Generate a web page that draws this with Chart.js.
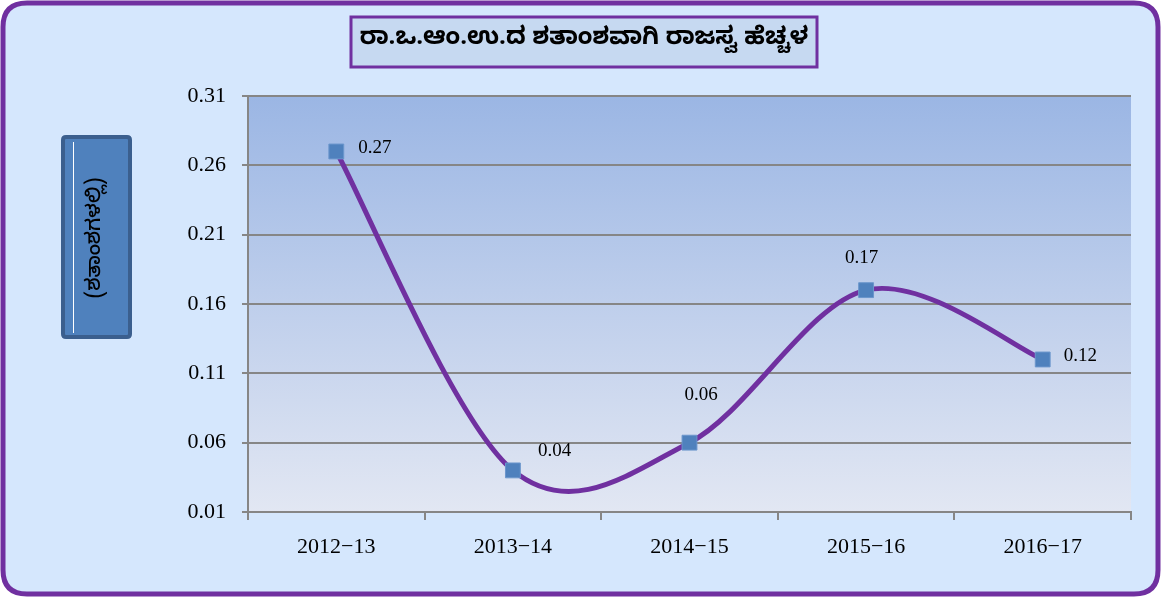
<!DOCTYPE html>
<html>
<head>
<meta charset="utf-8">
<script src="https://cdn.jsdelivr.net/npm/chart.js@4.4.0/dist/chart.umd.min.js"></script>
<style>
    html, body { margin: 0; padding: 0; background: #ffffff; }
    #wrap { width: 1161px; height: 597px; position: relative; }
</style>
</head>
<body>
<div id="wrap"><canvas id="revenueChart" width="1161" height="597"></canvas></div>
<script>
// Chart data
const years = ['2012\u221213', '2013\u221214', '2014\u221215', '2015\u221216', '2016\u221217'];
const revenueGrowth = [0.27, 0.04, 0.06, 0.17, 0.12];
const yTickValues = [0.01, 0.06, 0.11, 0.16, 0.21, 0.26, 0.31];
const yTickLabels = ['0.01', '0.06', '0.11', '0.16', '0.21', '0.26', '0.31'];
const chartTitle = 'ರಾ.ಒ.ಆಂ.ಉ.ದ ಶತಾಂಶವಾಗಿ ರಾಜಸ್ವ ಹೆಚ್ಚಳ';
const yAxisTitle = '(ಶತಾಂಶಗಳಲ್ಲಿ)';

const kannadaFont = '"Noto Sans Kannada", "Noto Sans", "DejaVu Sans", sans-serif';
const serifFont = '"Liberation Serif", "Times New Roman", serif';

// label offsets relative to each point (Excel style placement)
const labelOffsets = [[22, -3], [25, -19], [-5, -48], [-21, -32], [21, -3]];

function roundRect(ctx, x, y, w, h, r) {
    ctx.beginPath();
    ctx.moveTo(x + r, y);
    ctx.lineTo(x + w - r, y);
    ctx.quadraticCurveTo(x + w, y, x + w, y + r);
    ctx.lineTo(x + w, y + h - r);
    ctx.quadraticCurveTo(x + w, y + h, x + w - r, y + h);
    ctx.lineTo(x + r, y + h);
    ctx.quadraticCurveTo(x, y + h, x, y + h - r);
    ctx.lineTo(x, y + r);
    ctx.quadraticCurveTo(x, y, x + r, y);
    ctx.closePath();
}

/**
 * Background: outer rounded frame and gradient plot area
 */
const backgroundPlugin = {
    id: 'backgroundPlugin',
    beforeDraw(chart) {
        const ctx = chart.ctx;
        const area = chart.chartArea;
        ctx.save();
        ctx.fillStyle = '#ffffff';
        ctx.fillRect(0, 0, chart.width, chart.height);

        roundRect(ctx, 3, 3, chart.width - 6, chart.height - 6, 24);
        ctx.fillStyle = '#d5e7fd';
        ctx.fill();
        ctx.lineWidth = 5;
        ctx.strokeStyle = '#7030a0';
        ctx.stroke();

        const grad = ctx.createLinearGradient(0, area.top, 0, area.bottom);
        grad.addColorStop(0, '#9bb6e4');
        grad.addColorStop(1, '#e2e7f3');
        ctx.fillStyle = grad;
        ctx.fillRect(area.left, area.top, area.right - area.left, area.bottom - area.top);
        ctx.restore();
    }
};

/**
 * Excel-like smoothing: uniform Catmull-Rom control points (1/6 of neighbour span)
 */
const smoothPlugin = {
    id: 'smoothPlugin',
    beforeDatasetsDraw(chart) {
        const meta = chart.getDatasetMeta(0);
        meta.dataset.updateControlPoints(chart.chartArea, 'x');
        const pts = meta.data;
        const n = pts.length;
        pts.forEach((pt, i) => {
            const prev = pts[Math.max(i - 1, 0)];
            const next = pts[Math.min(i + 1, n - 1)];
            const dx = (next.x - prev.x) / 6;
            const dy = (next.y - prev.y) / 6;
            pt.cp1x = pt.x - dx;
            pt.cp1y = pt.y - dy;
            pt.cp2x = pt.x + dx;
            pt.cp2y = pt.y + dy;
        });
    }
};

/**
 * Title box, y axis title box and point labels
 */
const decorationPlugin = {
    id: 'decorationPlugin',
    afterDraw(chart) {
        const ctx = chart.ctx;
        ctx.save();

        // title box
        ctx.fillStyle = '#c6d9f1';
        ctx.fillRect(351, 17, 466, 50);
        ctx.lineWidth = 3;
        ctx.strokeStyle = '#7030a0';
        ctx.strokeRect(351, 17, 466, 50);
        ctx.fillStyle = '#000000';
        ctx.font = 'bold 24px ' + kannadaFont;
        ctx.textAlign = 'center';
        ctx.textBaseline = 'middle';
        ctx.fillText(chartTitle, 584, 42);

        // y axis title box
        roundRect(ctx, 63, 137, 67, 200, 3);
        ctx.fillStyle = '#4f81bd';
        ctx.fill();
        ctx.lineWidth = 4;
        ctx.strokeStyle = '#3b5f8e';
        ctx.stroke();
        ctx.beginPath();
        ctx.moveTo(73.5, 142);
        ctx.lineTo(73.5, 333);
        ctx.lineWidth = 1;
        ctx.strokeStyle = '#ffffff';
        ctx.stroke();

        ctx.translate(98, 238);
        ctx.rotate(-Math.PI / 2);
        ctx.fillStyle = '#000000';
        ctx.font = '500 20px ' + kannadaFont;
        ctx.fillText(yAxisTitle, 0, 0);
        ctx.setTransform(1, 0, 0, 1, 0, 0);

        // point labels
        const meta = chart.getDatasetMeta(0);
        ctx.font = '19px ' + serifFont;
        ctx.textAlign = 'left';
        ctx.textBaseline = 'middle';
        ctx.fillStyle = '#000000';
        meta.data.forEach((pt, i) => {
            const off = labelOffsets[i];
            ctx.fillText(revenueGrowth[i].toFixed(2), pt.x + off[0], pt.y + off[1]);
        });
        ctx.restore();
    }
};

const ctx = document.getElementById('revenueChart').getContext('2d');
new Chart(ctx, {
    type: 'line',
    data: {
        labels: years,
        datasets: [{
            data: revenueGrowth,
            borderColor: '#7030a0',
            borderWidth: 5,
            tension: 0.4,
            pointStyle: 'rect',
            pointRadius: 10.5,
            pointBackgroundColor: '#4f81bd',
            pointBorderColor: '#6b96cc',
            pointBorderWidth: 1,
            fill: false
        }]
    },
    options: {
        responsive: false,
        animation: false,
        events: [],
        layout: {
            padding: { top: 96, right: 30, left: 0, bottom: 0 }
        },
        plugins: {
            legend: { display: false },
            tooltip: { enabled: false },
            title: { display: false }
        },
        scales: {
            x: {
                offset: true,
                afterFit: function(scale) { scale.height = 85; },
                grid: {
                    offset: true,
                    drawOnChartArea: false,
                    color: '#868686',
                    lineWidth: 2,
                    tickLength: 8
                },
                border: { color: '#868686', width: 2 },
                ticks: {
                    color: '#000000',
                    font: { family: serifFont, size: 22 },
                    padding: 14,
                    maxRotation: 0
                }
            },
            y: {
                min: 0.01,
                max: 0.31,
                afterFit: function(scale) { scale.width = 248; },
                afterBuildTicks: function(scale) {
                    scale.ticks = yTickValues.map(v => ({ value: v }));
                },
                grid: {
                    color: '#868686',
                    lineWidth: 2,
                    tickLength: 6
                },
                border: { color: '#868686', width: 2 },
                ticks: {
                    color: '#000000',
                    font: { family: serifFont, size: 22 },
                    padding: 16,
                    callback: function(value, index) { return yTickLabels[index]; }
                }
            }
        }
    },
    plugins: [backgroundPlugin, smoothPlugin, decorationPlugin]
});
</script>
</body>
</html>
